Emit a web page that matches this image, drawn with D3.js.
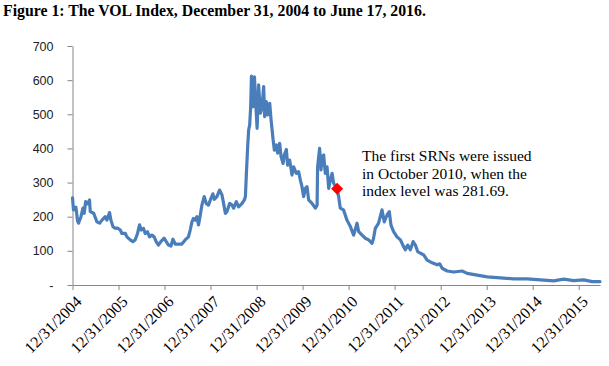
<!DOCTYPE html>
<html>
<head>
<meta charset="utf-8">
<script src="https://cdn.jsdelivr.net/npm/d3@7"></script>
<style>
  body { margin: 0; background: #fff; }
  svg { display: block; }
</style>
</head>
<body>
<svg id="chart"></svg>
<script>
// VOL index levels
const dates = [
  "2004-12-31","2005-01-08","2005-01-27","2005-02-09","2005-02-17","2005-03-08","2005-03-24","2005-04-03",
  "2005-04-14","2005-04-29","2005-05-15","2005-05-21","2005-06-17","2005-07-13","2005-08-03","2005-08-22",
  "2005-09-17","2005-09-30","2005-10-21","2005-11-01","2005-11-17","2005-12-05","2005-12-23","2006-01-14",
  "2006-01-27","2006-02-23","2006-03-08","2006-04-03","2006-04-24","2006-05-12","2006-05-31","2006-06-16",
  "2006-06-29","2006-07-17","2006-07-31","2006-08-18","2006-09-03","2006-09-22","2006-10-10","2006-10-26",
  "2006-11-13","2006-12-02","2006-12-28","2007-01-14","2007-02-01","2007-02-20","2007-03-08","2007-03-26",
  "2007-04-21","2007-05-18","2007-06-13","2007-07-09","2007-07-23","2007-08-06","2007-08-18","2007-09-01",
  "2007-09-14","2007-09-27","2007-10-11","2007-10-24","2007-11-11","2007-11-27","2007-12-15","2008-01-04",
  "2008-01-19","2008-01-30","2008-02-20","2008-03-12","2008-03-31","2008-04-13","2008-04-27","2008-05-10",
  "2008-05-31","2008-06-19","2008-07-02","2008-07-23","2008-08-10","2008-09-07","2008-09-25","2008-10-03",
  "2008-10-11","2008-10-21","2008-10-29","2008-11-06","2008-11-14","2008-11-20","2008-12-03","2008-12-14",
  "2008-12-22","2009-01-04","2009-01-16","2009-01-30","2009-02-12","2009-02-25","2009-03-05","2009-03-18",
  "2009-03-29","2009-04-14","2009-04-25","2009-05-11","2009-05-21","2009-06-06","2009-06-16","2009-07-02",
  "2009-07-13","2009-07-29","2009-08-08","2009-08-24","2009-09-03","2009-09-19","2009-10-08","2009-10-21",
  "2009-11-11","2009-11-29","2009-12-13","2009-12-26","2010-01-08","2010-01-22","2010-02-04","2010-02-17",
  "2010-03-16","2010-04-11","2010-04-25","2010-04-29","2010-05-15","2010-05-26","2010-06-05","2010-06-16",
  "2010-06-29","2010-07-13","2010-07-26","2010-08-08","2010-08-22","2010-09-03","2010-10-01","2010-10-13",
  "2010-10-26","2010-11-21","2010-12-18","2011-01-14","2011-02-09","2011-03-08","2011-03-21","2011-04-17",
  "2011-05-13","2011-06-08","2011-07-05","2011-07-17","2011-07-31","2011-08-26","2011-09-22","2011-10-10",
  "2011-11-01","2011-11-19","2011-12-02","2011-12-23","2012-01-19","2012-02-15","2012-03-12","2012-03-25",
  "2012-04-13","2012-05-04","2012-05-26","2012-06-13","2012-07-01","2012-07-23","2012-08-18","2012-09-14",
  "2012-10-24","2012-12-03","2012-12-23","2013-01-11","2013-02-20","2013-04-14","2013-06-19","2013-07-29",
  "2013-10-16","2014-01-04","2014-04-18","2014-08-02","2014-11-16","2015-03-02","2015-06-16","2015-09-03",
  "2015-11-21","2016-02-09","2016-04-16","2016-06-17"
]
const levels = [
  255,220,228,188,181,200,225,210,
  244,238,249,215,210,185,181,190,
  200,190,212,190,171,166,167,161,
  151,151,141,132,127,132,151,176,
  161,166,151,156,141,146,141,127,
  117,127,137,127,117,114,134,120,
  120,120,132,141,161,185,195,190,
  200,176,205,234,259,239,234,254,
  267,251,259,278,264,239,210,215,
  239,234,225,244,229,239,249,259,
  327,405,454,469,522,612,522,610,
  547,459,586,503,522,581,493,537,
  498,532,483,425,395,410,386,415,
  376,356,381,397,351,366,322,346,
  327,332,308,288,259,283,288,249,
  239,225,234,346,400,337,376,381,
  327,346,283,308,327,298,281.69,259,
  225,220,190,171,146,181,156,146,
  137,132,122,137,166,181,220,185,
  205,215,176,156,141,132,112,103,
  117,103,127,117,98,93,88,73,
  65,59,62,49,41,38,41,34,
  29,24,21,18,18,15,12,17,
  13,15,10,10
]

const yTicks = [0, 100, 200, 300, 400, 500, 600, 700]
const xTickYears = [2004, 2005, 2006, 2007, 2008, 2009, 2010, 2011, 2012, 2013, 2014, 2015]

const markerDate = "2010-10-01"
const markerLevel = 281.69
const noteLines = ["The first SRNs were issued", "in October 2010, when the", "index level was 281.69."]
const title = "Figure 1: The VOL Index, December 31, 2004 to June 17, 2016."

const width = 609, height = 366
const parse = d3.timeParse("%Y-%m-%d")
const data = dates.map((d, i) => ({ date: parse(d), v: levels[i] }))

let svg = d3.select("#chart").attr("width", width).attr("height", height)

let x = d3.scaleTime()
    .domain([new Date(2004, 11, 31), new Date(2016, 5, 17)])
    .range([72.5, 600])
let y = d3.scaleLinear()
    .domain([0, 700])
    .range([285, 46])

// title
svg.append("text")
    .attr("x", 3)
    .attr("y", 16)
    .attr("font-family", "'Liberation Serif', 'Times New Roman', serif")
    .attr("font-weight", "bold")
    .attr("font-size", "15.8px")
    .attr("fill", "#000")
    .text(title)

// y axis
let yAxis = svg.append("g")
    .attr("transform", "translate(72.5,0)")
    .call(d3.axisLeft(y).tickValues(yTicks).tickSize(5).tickSizeOuter(0).tickPadding(14)
        .tickFormat(d => d === 0 ? "-" : d))
yAxis.selectAll("path, line").attr("stroke", "#868686")
yAxis.selectAll("text")
    .attr("font-family", "'Liberation Sans', Arial, sans-serif")
    .attr("font-size", "12.5px")
    .attr("fill", "#222")

// x axis
let xAxis = svg.append("g")
    .attr("transform", "translate(0,285)")
    .call(d3.axisBottom(x).tickValues(xTickYears.map(yr => new Date(yr, 11, 31)))
        .tickSize(5).tickSizeOuter(0).tickFormat(d3.timeFormat("%m/%d/%Y")))
xAxis.selectAll("path, line").attr("stroke", "#868686")
xAxis.selectAll("text")
    .attr("font-family", "'Liberation Serif', 'Times New Roman', serif")
    .attr("font-size", "16px")
    .attr("fill", "#000")
    .attr("text-anchor", "end")
    .attr("dx", "0")
    .attr("dy", "0")
    .attr("transform", "translate(4,12) rotate(-45)")

// the index line
let line = d3.line()
    .x(d => x(d.date))
    .y(d => y(d.v))

svg.append("path")
    .datum(data)
    .attr("fill", "none")
    .attr("stroke", "#4a7ebb")
    .attr("stroke-width", 3.2)
    .attr("stroke-linejoin", "round")
    .attr("stroke-linecap", "round")
    .attr("d", line)

// SRN issue marker
svg.append("path")
    .attr("d", d3.symbol().type(d3.symbolSquare).size(72)())
    .attr("transform", "translate(" + x(parse(markerDate)) + "," + y(markerLevel) + ") rotate(45)")
    .attr("fill", "#ff0000")

// annotation
let note = svg.append("text")
    .attr("font-family", "'Liberation Serif', 'Times New Roman', serif")
    .attr("font-size", "15.5px")
    .attr("fill", "#000")
note.selectAll("tspan").data(noteLines)
    .enter().append("tspan")
    .attr("x", 362)
    .attr("y", (d, i) => 161 + i * 17.7)
    .text(d => d)
</script>
</body>
</html>
